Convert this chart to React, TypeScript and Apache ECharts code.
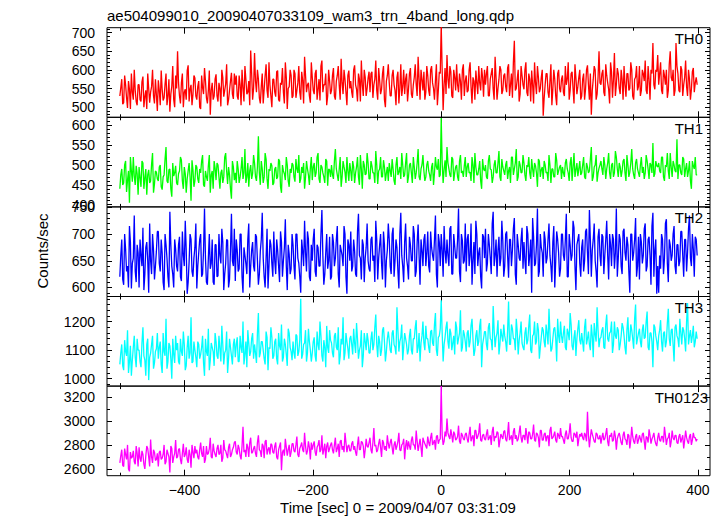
import React, { useEffect, useRef } from 'react';
import * as echarts from 'echarts';

// time grid of the light curve (seconds from 2009/04/07 03:31:09)
const timeStart = -501;
const timeStep = 3;
// the "Mid" arrays hold the bins that fall half a step after each main bin

const th0: number[] = [
  530, 575, 512, 560, 498, 548, 590, 520, 545, 505,
  560, 515, 582, 528, 495, 550, 540, 600, 510, 533,
  572, 505, 548, 525, 590, 530, 488, 556, 520, 585,
  650, 530, 565, 500, 548, 598, 515, 560, 535, 578,
  520, 570, 495, 552, 605, 525, 545, 480, 565, 530,
  588, 515, 550, 600, 528, 562, 505, 545, 592, 522,
  560, 530, 585, 505, 552, 610, 535, 570, 652, 520,
  645, 540, 575, 510, 590, 548, 615, 525, 560, 500,
  575, 528, 598, 515, 560, 540, 620, 495, 555, 585,
  530, 590, 545, 610, 520, 572, 635, 540, 565, 512,
  580, 535, 600, 548, 518, 625, 560, 590, 530, 570,
  545, 605, 520, 585, 558, 630, 535, 575, 505, 598,
  570, 525, 612, 548, 590, 515, 560, 600, 530, 578,
  540, 595, 560, 625, 520, 572, 548, 610, 500, 585,
  565, 530, 600, 545, 580, 510, 615, 555, 535, 590,
  548, 605, 525, 580, 560, 635, 520, 575, 595, 540,
  585, 530, 610, 550, 572, 505, 595, 720, 492, 605,
  640, 550, 595, 525, 580, 615, 540, 570, 600, 530,
  585, 545, 620, 510, 570, 598, 535, 565, 605, 528,
  560, 610, 530, 590, 548, 635, 520, 575, 600, 545,
  590, 540, 615, 560, 525, 678, 550, 600, 535, 585,
  548, 620, 530, 575, 598, 510, 565, 610, 540, 580,
  477, 560, 590, 525, 615, 548, 575, 505, 600, 540,
  585, 530, 560, 620, 545, 595, 510, 578, 555, 600,
  530, 590, 548, 612, 520, 480, 575, 600, 535, 650,
  560, 600, 530, 585, 548, 620, 525, 645, 560, 590,
  535, 575, 610, 528, 590, 550, 600, 520, 580, 545,
  610, 545, 590, 625, 535, 575, 600, 672, 548, 595,
  560, 620, 535, 585, 600, 545, 650, 570, 530, 672,
  590, 540, 600, 560, 625, 530, 575, 548, 605, 565,
  560,
];
const th0Mid: number[] = [
  552, 508, 585, 525, 570, 495, 540, 600, 515, 560,
  520, 568, 500, 545, 590, 512, 555, 530, 575, 490,
  545, 598, 518, 562, 505, 575, 535, 610, 500, 550,
  565, 510, 590, 540, 520, 612, 548, 505, 585, 530,
  555, 500, 585, 535, 570, 510, 598, 545, 520, 575,
  530, 565, 502, 580, 545, 615, 520, 570, 535, 590,
  585, 520, 560, 600, 515, 575, 540, 505, 590, 550,
  570, 600, 525, 555, 510, 585, 545, 620, 530, 575,
  540, 595, 520, 565, 605, 510, 580, 550, 600, 525,
  600, 525, 565, 540, 595, 510, 585, 560, 530, 620,
  545, 590, 520, 575, 610, 540, 560, 505, 600, 535,
  585, 530, 570, 610, 520, 565, 600, 540, 585, 550,
  540, 600, 560, 515, 575, 625, 530, 580, 550, 595,
  590, 525, 575, 545, 605, 535, 590, 520, 570, 615,
  530, 585, 560, 505, 595, 550, 530, 600, 575, 515,
  590, 535, 560, 615, 530, 575, 600, 545, 520, 610,
  545, 600, 565, 520, 615, 545, 590, 598, 560, 535,
  575, 610, 530, 600, 545, 560, 590, 520, 615, 570,
  540, 600, 555, 580, 520, 565, 610, 545, 580, 600,
  590, 530, 575, 605, 520, 580, 550, 610, 535, 585,
  555, 605, 530, 590, 620, 545, 575, 515, 610, 560,
  600, 540, 590, 515, 560, 620, 535, 580, 550, 600,
  525, 590, 540, 570, 505, 600, 530, 590, 550, 575,
  540, 610, 575, 520, 590, 550, 615, 535, 580, 520,
  575, 520, 600, 560, 590, 545, 610, 520, 580, 565,
  590, 540, 615, 565, 510, 595, 575, 530, 605, 550,
  600, 520, 560, 590, 545, 620, 530, 575, 610, 555,
  530, 600, 570, 545, 610, 520, 590, 560, 600, 640,
  590, 545, 600, 560, 525, 615, 580, 600, 545, 610,
  545, 610, 530, 580, 555, 600, 520, 595, 540, 580,
];

const th1: number[] = [
  440, 490, 455, 510, 462, 405, 485, 520, 450, 478,
  495, 445, 505, 468, 425, 488, 460, 530, 452, 482,
  460, 500, 438, 475, 545, 455, 490, 420, 472, 498,
  450, 485, 512, 440, 478, 465, 505, 410, 488, 460,
  495, 455, 480, 525, 445, 470, 498, 430, 485, 510,
  462, 500, 440, 488, 470, 530, 452, 475, 415, 495,
  480, 510, 455, 490, 465, 540, 470, 445, 500, 478,
  505, 460, 572, 450, 490, 470, 515, 440, 485, 498,
  455, 495, 470, 510, 430, 485, 462, 500, 445, 480,
  500, 458, 490, 525, 465, 480, 440, 510, 475, 492,
  462, 505, 480, 530, 455, 495, 470, 515, 448, 488,
  500, 465, 540, 475, 490, 445, 510, 482, 520, 460,
  485, 510, 455, 495, 470, 525, 440, 500, 478, 505,
  465, 498, 480, 535, 452, 490, 470, 512, 460, 495,
  505, 470, 490, 450, 520, 482, 465, 500, 475, 530,
  470, 505, 455, 495, 480, 540, 462, 500, 485, 470,
  510, 475, 495, 450, 520, 488, 470, 618, 455, 512,
  545, 490, 470, 515, 480, 500, 460, 525, 485, 498,
  470, 505, 482, 520, 455, 495, 475, 510, 440, 490,
  500, 465, 525, 488, 470, 512, 480, 535, 460, 495,
  475, 510, 485, 455, 520, 490, 540, 470, 500, 482,
  505, 460, 495, 480, 515, 470, 498, 445, 510, 488,
  465, 500, 482, 525, 455, 490, 470, 512, 485, 500,
  495, 470, 515, 480, 505, 460, 530, 488, 472, 510,
  480, 520, 465, 495, 485, 545, 470, 500, 458, 492,
  510, 475, 500, 490, 530, 465, 505, 480, 520, 470,
  495, 485, 515, 460, 500, 482, 540, 475, 505, 490,
  470, 520, 495, 480, 510, 465, 500, 555, 478, 498,
  505, 480, 520, 460, 495, 485, 530, 470, 500, 482,
  465, 500, 475, 515, 490, 470, 510, 440, 498, 520,
  475,
];
const th1Mid: number[] = [
  475, 450, 500, 432, 485, 520, 458, 472, 498, 425,
  468, 510, 440, 490, 475, 455, 502, 430, 485, 465,
  495, 445, 470, 515, 460, 488, 440, 505, 480, 455,
  478, 520, 460, 495, 430, 485, 470, 512, 445, 500,
  465, 490, 510, 450, 485, 460, 525, 475, 440, 492,
  505, 470, 480, 455, 520, 485, 495, 440, 510, 462,
  455, 490, 470, 520, 480, 455, 505, 485, 465, 525,
  470, 495, 480, 510, 455, 530, 465, 490, 505, 450,
  490, 465, 515, 445, 500, 478, 520, 460, 490, 505,
  470, 515, 480, 455, 495, 505, 470, 490, 450, 520,
  495, 470, 520, 465, 500, 480, 455, 510, 490, 470,
  475, 510, 490, 460, 520, 470, 495, 455, 485, 505,
  460, 495, 480, 520, 450, 490, 510, 475, 530, 465,
  510, 480, 455, 500, 485, 520, 470, 495, 480, 460,
  485, 515, 460, 500, 475, 495, 530, 470, 505, 455,
  500, 480, 520, 465, 505, 470, 490, 525, 460, 500,
  485, 460, 505, 480, 495, 515, 475, 505, 490, 470,
  505, 475, 520, 460, 495, 470, 510, 480, 470, 520,
  495, 480, 460, 500, 530, 475, 490, 460, 515, 485,
  470, 510, 490, 455, 500, 480, 505, 470, 515, 485,
  500, 465, 495, 520, 475, 505, 460, 510, 480, 525,
  475, 500, 520, 465, 490, 505, 480, 515, 470, 495,
  510, 480, 460, 500, 490, 470, 530, 475, 495, 465,
  480, 505, 490, 460, 520, 495, 470, 505, 490, 475,
  500, 470, 505, 480, 515, 460, 495, 525, 480, 500,
  490, 520, 465, 505, 480, 500, 470, 535, 490, 505,
  470, 510, 480, 525, 470, 505, 490, 465, 515, 480,
  500, 480, 465, 525, 490, 505, 480, 470, 510, 495,
  485, 520, 470, 500, 530, 465, 495, 510, 485, 565,
  500, 480, 520, 470, 505, 485, 460, 510, 490, 475,
];

const th2: number[] = [
  620, 690, 605, 672, 640, 715, 598, 655, 630, 680,
  600, 660, 712, 625, 685, 590, 650, 700, 615, 668,
  705, 630, 665, 595, 680, 620, 742, 640, 600, 672,
  630, 695, 612, 660, 725, 588, 648, 690, 620, 675,
  598, 665, 700, 625, 748, 610, 655, 635, 690, 605,
  680, 622, 660, 710, 595, 645, 688, 615, 738, 640,
  612, 670, 635, 700, 590, 660, 625, 720, 640, 685,
  630, 695, 605, 668, 740, 620, 655, 598, 690, 645,
  705, 625, 670, 610, 685, 650, 728, 595, 662, 635,
  680, 615, 700, 645, 590, 668, 725, 630, 690, 612,
  650, 710, 620, 675, 640, 745, 605, 665, 635, 695,
  620, 685, 655, 715, 600, 670, 640, 700, 588, 680,
  705, 640, 668, 620, 738, 655, 690, 610, 675, 650,
  630, 695, 660, 725, 615, 680, 645, 705, 600, 670,
  690, 625, 712, 650, 675, 598, 740, 640, 685, 655,
  615, 680, 650, 700, 630, 718, 605, 670, 690, 640,
  705, 628, 675, 650, 735, 600, 685, 700, 620, 668,
  690, 640, 715, 625, 678, 655, 748, 610, 688, 650,
  630, 700, 660, 605, 685, 725, 640, 675, 598, 695,
  710, 645, 680, 625, 742, 660, 620, 695, 655, 688,
  640, 705, 618, 690, 670, 730, 605, 680, 650, 712,
  685, 625, 700, 660, 590, 695, 645, 748, 630, 675,
  620, 690, 655, 720, 640, 685, 600, 705, 665, 635,
  700, 650, 738, 620, 680, 660, 712, 595, 690, 645,
  675, 630, 705, 665, 745, 620, 690, 650, 600, 710,
  640, 695, 660, 725, 615, 680, 700, 635, 748, 655,
  690, 625, 710, 650, 680, 590, 700, 665, 730, 640,
  615, 685, 660, 720, 640, 695, 605, 740, 670, 588,
  590, 635, 690, 655, 728, 610, 680, 660, 715, 625,
  680, 650, 705, 620, 690, 665, 735, 640, 672, 695,
  660,
];
const th2Mid: number[] = [
  660, 615, 700, 630, 600, 685, 645, 735, 610, 665,
  690, 640, 595, 675, 650, 720, 625, 670, 640, 705,
  645, 690, 610, 700, 655, 600, 680, 625, 690, 640,
  680, 620, 705, 640, 670, 610, 700, 630, 655, 720,
  640, 690, 620, 670, 655, 605, 700, 645, 610, 680,
  620, 700, 645, 685, 625, 690, 600, 670, 650, 710,
  690, 630, 700, 620, 675, 645, 690, 600, 670, 640,
  700, 650, 625, 690, 655, 600, 710, 640, 680, 620,
  650, 690, 640, 705, 620, 675, 640, 680, 625, 700,
  640, 700, 655, 620, 690, 640, 665, 705, 620, 680,
  690, 630, 680, 640, 700, 660, 625, 700, 650, 615,
  700, 640, 690, 625, 680, 660, 715, 620, 690, 650,
  630, 690, 625, 705, 660, 615, 680, 655, 720, 635,
  690, 650, 610, 690, 655, 700, 615, 680, 650, 720,
  640, 700, 620, 690, 630, 700, 660, 610, 720, 640,
  695, 650, 715, 620, 685, 660, 690, 640, 700, 665,
  640, 705, 660, 690, 625, 700, 640, 670, 715, 645,
  660, 710, 625, 700, 655, 690, 630, 700, 645, 720,
  690, 640, 720, 650, 625, 700, 665, 620, 700, 655,
  630, 700, 655, 720, 640, 690, 670, 640, 725, 620,
  700, 660, 690, 640, 710, 625, 700, 655, 690, 635,
  650, 715, 640, 690, 730, 640, 680, 620, 700, 665,
  705, 645, 690, 660, 610, 715, 650, 690, 620, 700,
  660, 690, 620, 700, 650, 725, 640, 680, 700, 620,
  690, 650, 710, 625, 690, 670, 720, 630, 695, 660,
  700, 625, 690, 660, 700, 640, 690, 665, 620, 700,
  640, 705, 665, 695, 630, 700, 650, 690, 620, 695,
  700, 645, 710, 630, 690, 660, 715, 620, 690, 640,
  660, 700, 625, 720, 645, 690, 650, 700, 640, 680,
  640, 705, 660, 690, 630, 710, 655, 700, 620, 690,
];

const th3: number[] = [
  1050, 1120, 1030, 1095, 1170, 1060, 1010, 1110, 1075, 1140,
  1100, 1040, 1180, 1065, 1120, 995, 1090, 1150, 1055, 1105,
  1070, 1130, 1020, 1095, 1210, 1060, 1115, 1000, 1085, 1150,
  1125, 1050, 1095, 1165, 1030, 1110, 1070, 1215, 1060, 1100,
  1040, 1120, 1085, 1150, 1010, 1095, 1175, 1065, 1110, 1045,
  1130, 1070, 1105, 1185, 1050, 1100, 1020, 1140, 1080, 1120,
  1075, 1145, 1060, 1110, 1200, 1085, 1040, 1125, 1095, 1160,
  1120, 1055, 1230, 1090, 1130, 1070, 1165, 1030, 1105, 1145,
  1080, 1140, 1050, 1115, 1190, 1075, 1120, 1045, 1160, 1095,
  1130, 1070, 1150, 1095, 1280, 1085, 1125, 1060, 1175, 1100,
  1090, 1145, 1060, 1120, 1200, 1080, 1135, 1040, 1110, 1170,
  1125, 1075, 1160, 1100, 1050, 1140, 1215, 1090, 1130, 1070,
  1150, 1085, 1125, 1195, 1070, 1115, 1040, 1160, 1100, 1135,
  1090, 1165, 1120, 1225, 1075, 1130, 1100, 1180, 1060, 1140,
  1135, 1090, 1170, 1110, 1250, 1095, 1145, 1065, 1160, 1120,
  1100, 1175, 1085, 1140, 1205, 1110, 1060, 1150, 1125, 1185,
  1140, 1090, 1170, 1115, 1230, 1080, 1150, 1275, 1060, 1145,
  1200, 1105, 1160, 1125, 1085, 1180, 1140, 1240, 1110, 1155,
  1095, 1170, 1130, 1210, 1080, 1150, 1115, 1185, 1040, 1140,
  1165, 1100, 1195, 1135, 1255, 1110, 1160, 1085, 1175, 1130,
  1150, 1095, 1270, 1120, 1175, 1140, 1210, 1085, 1160, 1125,
  1100, 1180, 1135, 1225, 1090, 1155, 1120, 1195, 1070, 1145,
  1170, 1110, 1160, 1245, 1095, 1140, 1180, 1060, 1150, 1200,
  1125, 1185, 1100, 1160, 1230, 1115, 1145, 1080, 1175, 1135,
  1160, 1095, 1210, 1140, 1120, 1190, 1075, 1155, 1250, 1110,
  1145, 1180, 1105, 1225, 1130, 1165, 1090, 1200, 1140, 1170,
  1120, 1195, 1150, 1085, 1215, 1135, 1170, 1105, 1260, 1140,
  1175, 1110, 1190, 1145, 1235, 1100, 1160, 1040, 1180, 1130,
  1150, 1205, 1095, 1165, 1130, 1245, 1115, 1175, 1060, 1190,
  1140, 1210, 1120, 1170, 1095, 1265, 1150, 1125, 1185, 1130,
  1140,
];
const th3Mid: number[] = [
  1090, 1045, 1135, 1080, 1020, 1115, 1065, 1150, 1040, 1100,
  1060, 1125, 1080, 1010, 1140, 1075, 1120, 1035, 1095, 1160,
  1110, 1050, 1160, 1080, 1035, 1125, 1070, 1140, 1055, 1100,
  1060, 1140, 1080, 1120, 1045, 1150, 1090, 1055, 1130, 1075,
  1130, 1070, 1110, 1055, 1140, 1080, 1030, 1125, 1095, 1160,
  1080, 1150, 1060, 1120, 1090, 1165, 1070, 1110, 1050, 1140,
  1120, 1060, 1150, 1090, 1050, 1130, 1170, 1080, 1140, 1070,
  1090, 1160, 1075, 1130, 1100, 1050, 1145, 1110, 1180, 1070,
  1130, 1070, 1160, 1100, 1060, 1140, 1085, 1175, 1110, 1065,
  1090, 1155, 1080, 1135, 1070, 1120, 1170, 1090, 1130, 1060,
  1130, 1080, 1165, 1100, 1150, 1060, 1110, 1185, 1090, 1135,
  1090, 1150, 1110, 1180, 1080, 1120, 1065, 1160, 1105, 1140,
  1120, 1175, 1090, 1140, 1100, 1170, 1080, 1130, 1160, 1090,
  1140, 1100, 1180, 1120, 1150, 1080, 1170, 1130, 1095, 1165,
  1100, 1160, 1120, 1085, 1170, 1130, 1190, 1110, 1140, 1085,
  1150, 1100, 1140, 1180, 1090, 1160, 1125, 1200, 1100, 1140,
  1110, 1165, 1125, 1190, 1100, 1145, 1175, 1160, 1120, 1180,
  1130, 1175, 1100, 1150, 1200, 1120, 1160, 1095, 1170, 1130,
  1160, 1110, 1185, 1140, 1100, 1170, 1130, 1210, 1120, 1165,
  1120, 1180, 1140, 1100, 1170, 1145, 1205, 1120, 1150, 1190,
  1130, 1170, 1120, 1190, 1140, 1100, 1165, 1135, 1200, 1110,
  1160, 1120, 1185, 1100, 1150, 1200, 1130, 1170, 1110, 1180,
  1130, 1190, 1120, 1160, 1105, 1175, 1140, 1210, 1125, 1150,
  1160, 1110, 1175, 1135, 1190, 1100, 1170, 1140, 1205, 1120,
  1130, 1180, 1120, 1165, 1100, 1150, 1195, 1130, 1170, 1140,
  1170, 1110, 1190, 1140, 1160, 1200, 1120, 1150, 1180, 1100,
  1150, 1180, 1110, 1170, 1130, 1190, 1140, 1210, 1120, 1160,
  1130, 1170, 1140, 1200, 1110, 1160, 1130, 1190, 1150, 1100,
  1170, 1130, 1160, 1110, 1195, 1140, 1170, 1120, 1180, 1150,
  1110, 1160, 1180, 1140, 1200, 1120, 1170, 1150, 1110, 1165,
];

const th0123: number[] = [
  2650, 2760, 2620, 2720, 2800, 2580, 2690, 2750, 2640, 2730,
  2780, 2660, 2720, 2600, 2790, 2700, 2845, 2650, 2740, 2680,
  2620, 2750, 2690, 2800, 2660, 2730, 2570, 2770, 2700, 2840,
  2700, 2770, 2640, 2810, 2720, 2680, 2760, 2610, 2740, 2790,
  2760, 2680, 2820, 2700, 2650, 2790, 2730, 2860, 2690, 2750,
  2700, 2800, 2730, 2660, 2840, 2750, 2690, 2810, 2720, 2780,
  2830, 2720, 2770, 2680, 2950, 2760, 2810, 2700, 2860, 2740,
  2790, 2700, 2880, 2750, 2810, 2690, 2840, 2760, 2720, 2800,
  2730, 2820, 2680, 2790, 2590, 2760, 2850, 2710, 2800, 2740,
  2810, 2740, 2870, 2700, 2790, 2760, 2900, 2720, 2830, 2680,
  2760, 2830, 2710, 2800, 2740, 2880, 2760, 2690, 2820, 2770,
  2820, 2730, 2860, 2770, 2700, 2840, 2790, 2900, 2740, 2800,
  2750, 2830, 2790, 2710, 2870, 2760, 2820, 2690, 2850, 2780,
  2860, 2730, 2940, 2800, 2760, 2850, 2700, 2820, 2790, 2880,
  2770, 2850, 2720, 2830, 2790, 2900, 2750, 2810, 2680, 2840,
  2830, 2760, 2870, 2800, 2920, 2750, 2850, 2700, 2830, 2790,
  2870, 2790, 2900, 2820, 2760, 2880, 2840, 3290, 2800, 2910,
  3020, 2870, 2930, 2820, 2890, 2850, 2960, 2810, 2880, 2840,
  2900, 2820, 2950, 2860, 2790, 2920, 2870, 2980, 2830, 2890,
  2840, 2930, 2860, 2800, 2950, 2870, 2910, 2780, 2890, 2850,
  2920, 2830, 2990, 2860, 2800, 2940, 2880, 2850, 2960, 2820,
  2880, 2940, 2810, 2900, 2850, 2970, 2830, 2890, 2780, 2920,
  2840, 2900, 2870, 2790, 2950, 2860, 2910, 2820, 2880, 2940,
  2870, 2810, 2920, 2850, 2980, 2830, 2900, 2860, 2790, 2890,
  2900, 2840, 2880, 3075, 2780, 2930, 2860, 2820, 2890, 2850,
  2810, 2900, 2850, 2940, 2790, 2870, 2830, 2920, 2760, 2880,
  2860, 2800, 2910, 2840, 2890, 2770, 2950, 2830, 2870, 2810,
  2880, 2820, 2900, 2760, 2860, 2930, 2810, 2870, 2840, 2790,
  2900, 2830, 2870, 2950, 2800, 2860, 2780, 2920, 2840, 2880,
  2810, 2890, 2850, 2770, 2920, 2830, 2870, 2800, 2900, 2860,
  2850,
];
const th0123Mid: number[] = [
  2710, 2630, 2770, 2680, 2600, 2740, 2700, 2660, 2790, 2620,
  2690, 2750, 2640, 2710, 2770, 2620, 2700, 2760, 2670, 2730,
  2740, 2680, 2720, 2640, 2760, 2700, 2790, 2650, 2730, 2690,
  2760, 2680, 2730, 2700, 2780, 2650, 2720, 2800, 2690, 2730,
  2700, 2760, 2730, 2790, 2680, 2720, 2770, 2700, 2810, 2720,
  2770, 2720, 2800, 2690, 2760, 2720, 2780, 2700, 2760, 2820,
  2740, 2800, 2710, 2790, 2740, 2700, 2780, 2820, 2730, 2770,
  2730, 2820, 2760, 2700, 2790, 2830, 2720, 2780, 2810, 2740,
  2790, 2700, 2760, 2820, 2740, 2710, 2780, 2760, 2700, 2810,
  2750, 2800, 2720, 2770, 2820, 2740, 2790, 2750, 2780, 2820,
  2800, 2740, 2780, 2840, 2760, 2720, 2810, 2790, 2740, 2800,
  2760, 2800, 2740, 2810, 2830, 2760, 2740, 2820, 2790, 2750,
  2810, 2760, 2740, 2800, 2760, 2830, 2790, 2760, 2790, 2820,
  2760, 2820, 2790, 2740, 2810, 2780, 2840, 2760, 2750, 2810,
  2820, 2780, 2800, 2760, 2830, 2760, 2800, 2850, 2790, 2760,
  2790, 2840, 2800, 2760, 2830, 2800, 2780, 2860, 2810, 2770,
  2820, 2860, 2800, 2840, 2870, 2810, 2850, 2880, 2830, 2870,
  2900, 2850, 2880, 2910, 2840, 2870, 2830, 2900, 2850, 2890,
  2850, 2890, 2830, 2880, 2920, 2850, 2900, 2840, 2880, 2850,
  2890, 2840, 2880, 2910, 2830, 2860, 2900, 2840, 2870, 2910,
  2850, 2890, 2840, 2880, 2910, 2850, 2830, 2900, 2860, 2880,
  2840, 2880, 2910, 2850, 2890, 2840, 2900, 2860, 2920, 2840,
  2890, 2830, 2880, 2920, 2850, 2880, 2840, 2900, 2850, 2870,
  2840, 2890, 2850, 2900, 2860, 2830, 2890, 2910, 2850, 2870,
  2860, 2900, 2830, 2880, 2860, 2890, 2830, 2900, 2850, 2880,
  2860, 2840, 2890, 2830, 2880, 2900, 2840, 2870, 2850, 2900,
  2820, 2880, 2850, 2800, 2880, 2840, 2870, 2810, 2890, 2840,
  2850, 2890, 2830, 2870, 2820, 2880, 2850, 2900, 2810, 2860,
  2840, 2870, 2820, 2880, 2850, 2900, 2830, 2860, 2880, 2820,
  2870, 2820, 2880, 2840, 2860, 2810, 2890, 2840, 2860, 2830,
];

const panelNames = ['TH0', 'TH1', 'TH2', 'TH3', 'TH0123'];
const panelSeries = [th0, th1, th2, th3, th0123];
const panelMidSeries = [th0Mid, th1Mid, th2Mid, th3Mid, th0123Mid];
const panelColors = ['#ff0000', '#00ff00', '#0000ff', '#00ffff', '#ff00ff'];
const yRanges: [number, number][] = [
  [472.8, 713],
  [394.5, 620],
  [583, 751],
  [974, 1288],
  [2544, 3289],
];
const yMajorTicks = [
  [500, 550, 600, 650, 700],
  [400, 450, 500, 550, 600],
  [600, 650, 700, 750],
  [1000, 1100, 1200],
  [2600, 2800, 3000, 3200],
];
const yMinorSteps = [10, 10, 10, 20, 100];
const xRange: [number, number] = [-521, 419];
const xMajorTicks = [-400, -200, 0, 200, 400];
const xMinorTicks = [-500, -300, -100, 100, 300];

const titleText = 'ae504099010_20090407033109_wam3_trn_4band_long.qdp';
const xName = 'Time [sec] 0 = 2009/04/07 03:31:09';
const yName = 'Counts/sec';

const FONT = '"Liberation Sans", Arial, Helvetica, sans-serif';
const gridTops = [27.7, 117.3, 206.9, 296.5, 386.1];
const gridHeight = 89.6;
const labelRight = [703, 703, 703, 703, 708];

function minorList(min: number, max: number, step: number, majors: number[]) {
  const out: number[] = [];
  for (let v = Math.ceil(min / step) * step; v <= max; v += step) {
    if (!majors.includes(v)) out.push(v);
  }
  return out;
}

function fmt(v: number) {
  return v < 0 ? '\u2212' + Math.abs(v) : String(v);
}

function buildPoints(main: number[], mid: number[]) {
  const pts: [number, number][] = [];
  main.forEach((v, i) => {
    const t = timeStart + i * timeStep;
    pts.push([t, v]);
    if (i < mid.length) pts.push([t + timeStep / 2, mid[i]]);
  });
  return pts;
}

export default function App() {
  const ref = useRef<HTMLDivElement>(null);
  useEffect(() => {
    if (!ref.current) return;
    const chart = echarts.init(ref.current, undefined, { renderer: 'svg' });
    const grids: any[] = [];
    const xAxes: any[] = [];
    const yAxes: any[] = [];
    const series: any[] = [];
    const graphics: any[] = [];

    panelNames.forEach((name, g) => {
      grids.push({
        left: 107,
        right: 13,
        top: gridTops[g],
        height: gridHeight,
        show: true,
        borderColor: '#000',
        borderWidth: 1,
        backgroundColor: 'transparent',
        containLabel: false,
        outerBoundsMode: 'none',
      });
      const [ymin, ymax] = yRanges[g];
      const yMinor = minorList(ymin, ymax, yMinorSteps[g], yMajorTicks[g]);
      const xAxisBase = (position: string, ticks: number[], len: number, labels: boolean) => ({
        type: 'value',
        gridIndex: g,
        position,
        min: xRange[0],
        max: xRange[1],
        axisLine: { show: false, onZero: false },
        splitLine: { show: false },
        axisTick: {
          show: true,
          inside: true,
          length: len,
          customValues: ticks,
          lineStyle: { color: '#000', width: 1 },
        },
        axisLabel: {
          show: labels,
          customValues: ticks,
          formatter: (v: number) => fmt(v),
          color: '#000',
          fontSize: 14,
          fontFamily: FONT,
          margin: 7,
        },
      });
      xAxes.push(xAxisBase('bottom', xMajorTicks, 6, g === 4));
      xAxes.push(xAxisBase('bottom', xMinorTicks, 3, false));
      xAxes.push(xAxisBase('top', xMajorTicks, 6, false));
      xAxes.push(xAxisBase('top', xMinorTicks, 3, false));

      const yAxisBase = (position: string, ticks: number[], len: number, labels: boolean) => ({
        type: 'value',
        gridIndex: g,
        position,
        min: ymin,
        max: ymax,
        axisLine: { show: false, onZero: false },
        splitLine: { show: false },
        axisTick: {
          show: true,
          inside: true,
          length: len,
          customValues: ticks,
          lineStyle: { color: '#000', width: 1 },
        },
        axisLabel: {
          show: labels,
          customValues: ticks,
          formatter: (v: number) => String(v),
          color: '#000',
          fontSize: 14,
          fontFamily: FONT,
          margin: 12,
        },
      });
      yAxes.push(yAxisBase('left', yMajorTicks[g], 5, true));
      yAxes.push(yAxisBase('left', yMinor, 3, false));
      yAxes.push(yAxisBase('right', yMajorTicks[g], 5, false));
      yAxes.push(yAxisBase('right', yMinor, 3, false));

      series.push({
        type: 'line',
        name,
        xAxisIndex: g * 4,
        yAxisIndex: g * 4,
        data: buildPoints(panelSeries[g], panelMidSeries[g]),
        showSymbol: false,
        symbol: 'none',
        clip: true,
        lineStyle: { color: panelColors[g], width: 1.3 },
        itemStyle: { color: panelColors[g] },
        z: 1,
      });

      graphics.push({
        type: 'text',
        x: labelRight[g],
        y: gridTops[g] + 11,
        style: {
          text: name,
          fill: '#000',
          font: `15px ${FONT}`,
          textAlign: 'right',
          textVerticalAlign: 'middle',
        },
        z: 10,
      });
    });

    graphics.push({
      type: 'text',
      x: 107,
      y: 15,
      style: {
        text: titleText,
        fill: '#000',
        font: `15px ${FONT}`,
        textAlign: 'left',
        textVerticalAlign: 'middle',
      },
    });
    graphics.push({
      type: 'text',
      x: 398,
      y: 507,
      style: {
        text: xName,
        fill: '#000',
        font: `15px ${FONT}`,
        textAlign: 'center',
        textVerticalAlign: 'middle',
      },
    });
    graphics.push({
      type: 'text',
      x: 42,
      y: 251,
      rotation: Math.PI / 2,
      style: {
        text: yName,
        fill: '#000',
        font: `15px ${FONT}`,
        textAlign: 'center',
        textVerticalAlign: 'middle',
      },
    });

    chart.setOption({
      animation: false,
      backgroundColor: '#fff',
      grid: grids,
      xAxis: xAxes,
      yAxis: yAxes,
      series,
      graphic: graphics,
    });
    return () => chart.dispose();
  }, []);
  return <div ref={ref} style={{ width: 723, height: 516, position: 'absolute', left: 0, top: 0 }} />;
}
